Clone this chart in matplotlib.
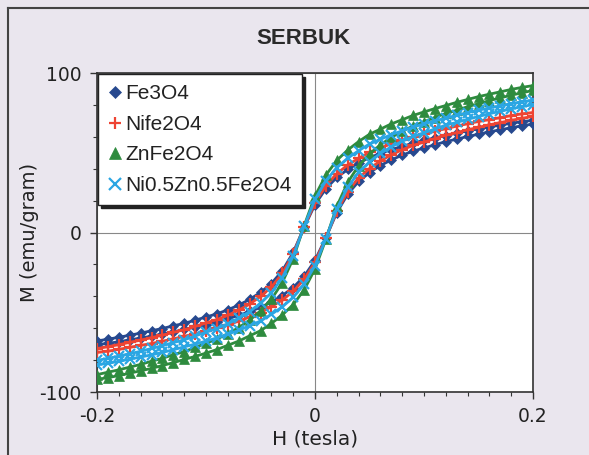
import matplotlib
matplotlib.use("Agg")
import matplotlib.pyplot as plt
from matplotlib.lines import Line2D
from matplotlib.ticker import MultipleLocator

plt.rcParams['axes.unicode_minus'] = False

# field grid (tesla), shared by every branch
H = [-0.20, -0.19, -0.18, -0.17, -0.16, -0.15, -0.14, -0.13, -0.12, -0.11,
     -0.10, -0.09, -0.08, -0.07, -0.06, -0.05, -0.04, -0.03, -0.02, -0.01,
     0.00, 0.01, 0.02, 0.03, 0.04, 0.05, 0.06, 0.07, 0.08, 0.09,
     0.10, 0.11, 0.12, 0.13, 0.14, 0.15, 0.16, 0.17, 0.18, 0.19, 0.20]

# descending branch (upper) and ascending branch (lower), emu/gram
fe3o4_up = [-68.0, -66.9, -65.7, -64.4, -63.1, -61.6, -60.2, -58.5, -57.0, -55.0,
            -53.0, -51.0, -48.5, -45.5, -42.0, -37.5, -32.0, -24.0, -12.5, 3.2,
            17.5, 27.5, 34.5, 39.5, 43.5, 47.0, 49.5, 52.0, 54.0, 56.0,
            57.7, 59.3, 60.8, 62.3, 63.7, 65.0, 66.2, 67.3, 68.5, 69.5, 70.3]
fe3o4_dn = [-70.3, -69.5, -68.5, -67.3, -66.2, -65.0, -63.7, -62.3, -60.8, -59.3,
            -57.7, -56.0, -54.0, -52.0, -49.5, -47.0, -43.5, -39.5, -34.5, -27.5,
            -17.5, -3.2, 12.5, 24.0, 32.0, 37.5, 42.0, 45.5, 48.5, 51.0,
            53.0, 55.0, 57.0, 58.5, 60.2, 61.6, 63.1, 64.4, 65.7, 66.9, 68.0]

nife_up = [-72.8, -71.6, -70.3, -68.9, -67.5, -65.9, -64.4, -62.6, -61.0, -58.9,
           -56.7, -54.6, -51.9, -48.7, -44.9, -40.1, -34.2, -25.7, -13.4, 3.4,
           18.7, 29.4, 36.9, 42.3, 46.5, 50.3, 53.0, 55.6, 57.8, 59.9,
           61.7, 63.5, 65.1, 66.7, 68.2, 69.6, 70.8, 72.0, 73.3, 74.4, 75.2]
nife_dn = [-75.2, -74.4, -73.3, -72.0, -70.8, -69.6, -68.2, -66.7, -65.1, -63.5,
           -61.7, -59.9, -57.8, -55.6, -53.0, -50.3, -46.5, -42.3, -36.9, -29.4,
           -18.7, -3.4, 13.4, 25.7, 34.2, 40.1, 44.9, 48.7, 51.9, 54.6,
           56.7, 58.9, 61.0, 62.6, 64.4, 65.9, 67.5, 68.9, 70.3, 71.6, 72.8]

znfe_up = [-89.1, -87.6, -86.1, -84.4, -82.7, -80.7, -78.9, -76.6, -74.7, -72.1,
           -69.4, -66.8, -63.5, -59.6, -55.0, -49.1, -41.9, -31.4, -16.4, 4.2,
           22.9, 36.0, 45.2, 51.7, 57.0, 61.6, 64.8, 68.1, 70.7, 73.4,
           75.6, 77.7, 79.6, 81.6, 83.4, 85.2, 86.7, 88.2, 89.7, 91.0, 92.1]
znfe_dn = [-92.1, -91.0, -89.7, -88.2, -86.7, -85.2, -83.4, -81.6, -79.6, -77.7,
           -75.6, -73.4, -70.7, -68.1, -64.8, -61.6, -57.0, -51.7, -45.2, -36.0,
           -22.9, -4.2, 16.4, 31.4, 41.9, 49.1, 55.0, 59.6, 63.5, 66.8,
           69.4, 72.1, 74.7, 76.6, 78.9, 80.7, 82.7, 84.4, 86.1, 87.6, 89.1]

nizn_up = [-80.2, -78.9, -77.5, -76.0, -74.5, -72.7, -71.0, -69.0, -67.3, -64.9,
           -62.5, -60.2, -57.2, -53.7, -49.6, -44.3, -37.8, -28.3, -14.8, 3.8,
           20.7, 32.5, 40.7, 46.6, 51.3, 55.5, 58.4, 61.4, 63.7, 66.1,
           68.1, 70.0, 71.7, 73.5, 75.2, 76.7, 78.1, 79.4, 80.8, 82.0, 83.0]
nizn_dn = [-83.0, -82.0, -80.8, -79.4, -78.1, -76.7, -75.2, -73.5, -71.7, -70.0,
           -68.1, -66.1, -63.7, -61.4, -58.4, -55.5, -51.3, -46.6, -40.7, -32.5,
           -20.7, -3.8, 14.8, 28.3, 37.8, 44.3, 49.6, 53.7, 57.2, 60.2,
           62.5, 64.9, 67.3, 69.0, 71.0, 72.7, 74.5, 76.0, 77.5, 78.9, 80.2]

labels = ['Fe3O4', 'Nife2O4', 'ZnFe2O4', 'Ni0.5Zn0.5Fe2O4']
colors = ['#27498f', '#ee4433', '#2e8b3e', '#2ba6e3']
markers = ['D', '+', '^', 'x']
branches = [(fe3o4_up, fe3o4_dn), (nife_up, nife_dn),
            (znfe_up, znfe_dn), (nizn_up, nizn_dn)]

BG = '#eae6ee'

fig = plt.figure(figsize=(5.89, 4.55), dpi=100, facecolor=BG)
ax = fig.add_axes([97 / 589, 1 - 392 / 455, 436 / 589, 319 / 455])
ax.set_facecolor('white')

sizes = {'D': 5, '+': 8, '^': 7, 'x': 7}
for (up, dn), c, m in zip(branches, colors, markers):
    for branch in (up, dn):
        ax.plot(H, branch, color=c, lw=2, marker=m, ms=sizes[m],
                mew=1.6 if m in '+x' else 0.5, zorder=3)

ax.set_xlim(-0.2, 0.2)
ax.set_ylim(-100, 100)
ax.set_xticks([-0.2, 0, 0.2])
ax.set_xticklabels(['-0.2', '0', '0.2'])
ax.set_yticks([-100, 0, 100])
ax.xaxis.set_minor_locator(MultipleLocator(0.02))
ax.yaxis.set_minor_locator(MultipleLocator(20))
ax.tick_params(which='major', direction='out', length=5, width=1, color='#333333',
               labelsize=13.5, labelcolor='#222222', pad=6)
ax.tick_params(which='minor', direction='out', length=3, width=0.8, color='#333333')
ax.grid(True, which='major', color='#888888', lw=0.8, zorder=1)
for s in ax.spines.values():
    s.set_color('#333333')
    s.set_linewidth(1.2)

ax.set_xlabel('H (tesla)', fontsize=14.5, color='#222222', labelpad=2)
ax.set_ylabel('M (emu/gram)', fontsize=14, color='#222222', labelpad=0)

fig.text(303 / 589, 1 - 38 / 455, 'SERBUK', fontsize=16, fontweight='bold',
         family='Liberation Sans', color='#2a2a2a', ha='center', va='center')

# legend: markers only, black frame with a solid drop shadow
handles = [Line2D([], [], ls='none', marker=m, color=c, ms=sizes[m] + 1,
                  mew=1.6 if m in '+x' else 0.5)
           for m, c in zip(markers, colors)]
leg = ax.legend(handles, labels, loc='upper left', borderaxespad=0.05,
                prop={'family': 'Liberation Sans', 'size': 15},
                handlelength=0.6, handletextpad=0.2, labelspacing=0.55,
                borderpad=0.5, fancybox=False, framealpha=1,
                shadow={'color': '#222222', 'alpha': 1})
leg.get_frame().set_edgecolor('#222222')
leg.get_frame().set_linewidth(1.0)
for t in leg.get_texts():
    t.set_color('#222222')

# chart-area border (top and left edges of the scanned frame)
fig.add_artist(Line2D([8 / 589, 8 / 589], [0, 1 - 8 / 455], color='#444444', lw=1.5))
fig.add_artist(Line2D([8 / 589, 1], [1 - 8 / 455, 1 - 8 / 455], color='#444444', lw=1.5))

fig.savefig('out.png', dpi=100, facecolor=BG)
